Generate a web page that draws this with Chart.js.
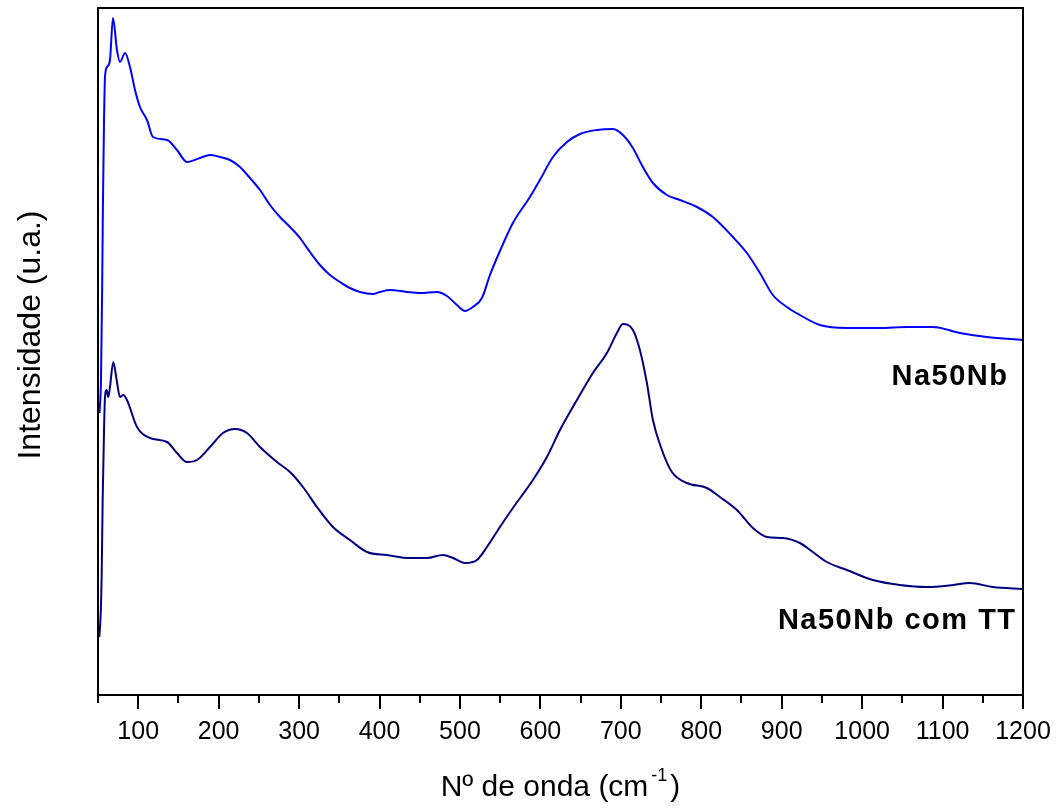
<!DOCTYPE html>
<html>
<head>
<meta charset="utf-8">
<script src="https://cdn.jsdelivr.net/npm/chart.js@4"></script>
<style>
  html, body { margin: 0; padding: 0; background: #fff; }
  #wrap { width: 1063px; height: 812px; position: relative; }
</style>
</head>
<body>
<div id="wrap"><canvas id="c" width="1063" height="812"></canvas></div>
<script>
// Wavenumber (cm-1) and intensity (arbitrary units)
const naX = [51.9,53.7,55.0,56.2,57.5,58.7,61.2,64.9,68.6,73.6,77.3,83.6,89.8,96.0,102.2,110.9,118.4,135.8,148.2,160.6,176.8,189.2,201.6,214.1,226.5,238.9,251.4,263.8,276.2,288.7,301.1,313.5,325.9,338.4,350.8,363.2,375.7,391.8,400.5,413.0,434.1,450.2,471.4,483.8,496.2,506.2,516.1,527.3,537.3,549.7,565.8,587.0,599.4,615.6,633.0,649.2,670.3,690.1,702.6,715.0,727.4,739.9,757.3,773.4,794.6,814.4,839.3,856.7,872.9,889.0,906.4,922.6,947.4,981.0,1022.0,1055.6,1087.9,1121.5,1155.0,1199.8];
const naY = [282,315,395,495,575,618,628,635,677,645,633,642,628,605,588,575,558,555,545,533,537,540,538,535,528,517,505,490,478,468,457,443,430,420,413,407,403,401,403,405,403,402,403,399,390,384,388,397,420,444,472,498,515,538,553,561,565,566,560,547,528,512,500,495,488,478,458,442,422,400,388,380,370,367,367,368,368,362,358,355];

const ttX = [51.6,53.4,54.6,55.8,57.5,58.7,60.8,62.8,64.9,69.0,73.2,77.3,81.4,86.0,98.5,114.6,135.8,148.2,160.6,173.1,189.2,205.4,220.3,235.2,251.4,272.5,288.7,304.8,322.2,342.1,363.2,384.4,409.2,437.8,458.9,478.8,491.3,506.2,521.1,533.5,549.7,565.8,590.7,608.1,624.3,645.4,665.3,682.7,695.1,702.6,715.0,723.7,732.4,739.9,751.1,763.5,782.1,807.0,823.1,844.3,864.2,881.6,901.5,922.6,938.7,956.1,981.0,1013.3,1046.9,1080.4,1113.7,1134.0,1162.5,1199.8];
const ttY = [58,82,122,195,265,298,305,298,308,333,315,298,300,295,268,257,253,242,233,235,248,262,266,262,248,233,223,208,188,168,155,143,140,137,137,140,137,132,135,148,168,187,215,238,265,295,322,342,362,371,365,345,312,275,245,223,212,207,198,185,167,158,157,152,143,133,125,115,110,108,110,112,108,106];

const xTickValues = [100,200,300,400,500,600,700,800,900,1000,1100,1200];
const seriesNames = ['Na50Nb', 'Na50Nb com TT'];
const xTitleMain = 'Nº de onda (cm';
const xTitleSup = '-1';
const xTitleEnd = ')';
const yTitle = 'Intensidade (u.a.)';

const FONT = '"Liberation Sans", Arial, sans-serif';

const toPts = (xs, ys) => xs.map((x, i) => ({x: x, y: ys[i]}));

const decor = {
  id: 'decor',
  afterDraw(chart) {
    const ctx = chart.ctx;
    const a = chart.chartArea;
    const xs = chart.scales.x, ys = chart.scales.y;
    ctx.save();
    // frame
    ctx.strokeStyle = '#000';
    ctx.lineWidth = 2;
    ctx.strokeRect(a.left, a.top, a.right - a.left, a.bottom - a.top);
    // ticks (major every 100, minor every 50)
    ctx.beginPath();
    for (let v = 50; v <= 1200; v += 50) {
      const px = Math.round(xs.getPixelForValue(v));
      const len = (v % 100 === 0) ? 14 : 8;
      ctx.moveTo(px, a.bottom);
      ctx.lineTo(px, a.bottom + len);
    }
    ctx.stroke();
    // x title with superscript
    ctx.fillStyle = '#000';
    ctx.textBaseline = 'alphabetic';
    ctx.textAlign = 'left';
    const mainFont = '30px ' + FONT, supFont = '18px ' + FONT;
    ctx.font = mainFont; const w1 = ctx.measureText(xTitleMain).width;
    const w3 = ctx.measureText(xTitleEnd).width;
    ctx.font = supFont; const w2 = ctx.measureText(xTitleSup).width;
    const gap = 3;
    const total = w1 + gap + w2 + gap + w3;
    let x0 = (a.left + a.right) / 2 - total / 2;
    const base = 796;
    ctx.font = mainFont; ctx.fillText(xTitleMain, x0, base);
    ctx.font = supFont; ctx.fillText(xTitleSup, x0 + w1 + gap, base - 15);
    ctx.font = mainFont; ctx.fillText(xTitleEnd, x0 + w1 + gap + w2 + gap, base);
    // y title
    ctx.font = '32px ' + FONT;
    ctx.textAlign = 'center';
    ctx.textBaseline = 'middle';
    ctx.translate(31, 335);
    ctx.rotate(-Math.PI / 2);
    ctx.fillText(yTitle, 0, 0);
    ctx.restore();
    // series labels
    ctx.save();
    ctx.fillStyle = '#000';
    ctx.font = 'bold 29px ' + FONT;
    ctx.textAlign = 'right';
    ctx.textBaseline = 'middle';
    try { ctx.letterSpacing = '1.5px'; } catch (e) {}
    ctx.fillText(seriesNames[0], xs.getPixelForValue(1182), ys.getPixelForValue(318));
    ctx.fillText(seriesNames[1], xs.getPixelForValue(1192), ys.getPixelForValue(74));
    ctx.restore();
  }
};

new Chart(document.getElementById('c'), {
  type: 'line',
  data: {
    datasets: [
      { label: seriesNames[0], data: toPts(naX, naY), borderColor: '#0000ff', borderWidth: 2, pointRadius: 0, fill: false, cubicInterpolationMode: 'monotone' },
      { label: seriesNames[1], data: toPts(ttX, ttY), borderColor: '#000080', borderWidth: 2, pointRadius: 0, fill: false, cubicInterpolationMode: 'monotone' }
    ]
  },
  options: {
    responsive: false,
    animation: false,
    devicePixelRatio: 1,
    layout: { padding: { top: 8, right: 40, left: 0, bottom: 0 } },
    plugins: { legend: { display: false }, tooltip: { enabled: false } },
    scales: {
      x: {
        type: 'linear', min: 50, max: 1200,
        afterBuildTicks: (s) => { s.ticks = xTickValues.map(v => ({value: v})); },
        afterFit: (s) => { s.height = 117; s.paddingLeft = 0; s.paddingRight = 0; },
        grid: { display: false, drawTicks: false },
        border: { display: false },
        ticks: { color: '#000', font: { family: FONT, size: 25 }, padding: 22, maxRotation: 0, autoSkip: false, callback: (v) => String(v) },
        title: { display: false }
      },
      y: {
        type: 'linear', min: 0, max: 687,
        afterFit: (s) => { s.width = 98; s.paddingTop = 0; s.paddingBottom = 0; },
        grid: { display: false, drawTicks: false },
        border: { display: false },
        ticks: { display: false },
        title: { display: false }
      }
    }
  },
  plugins: [decor]
});
</script>
</body>
</html>
